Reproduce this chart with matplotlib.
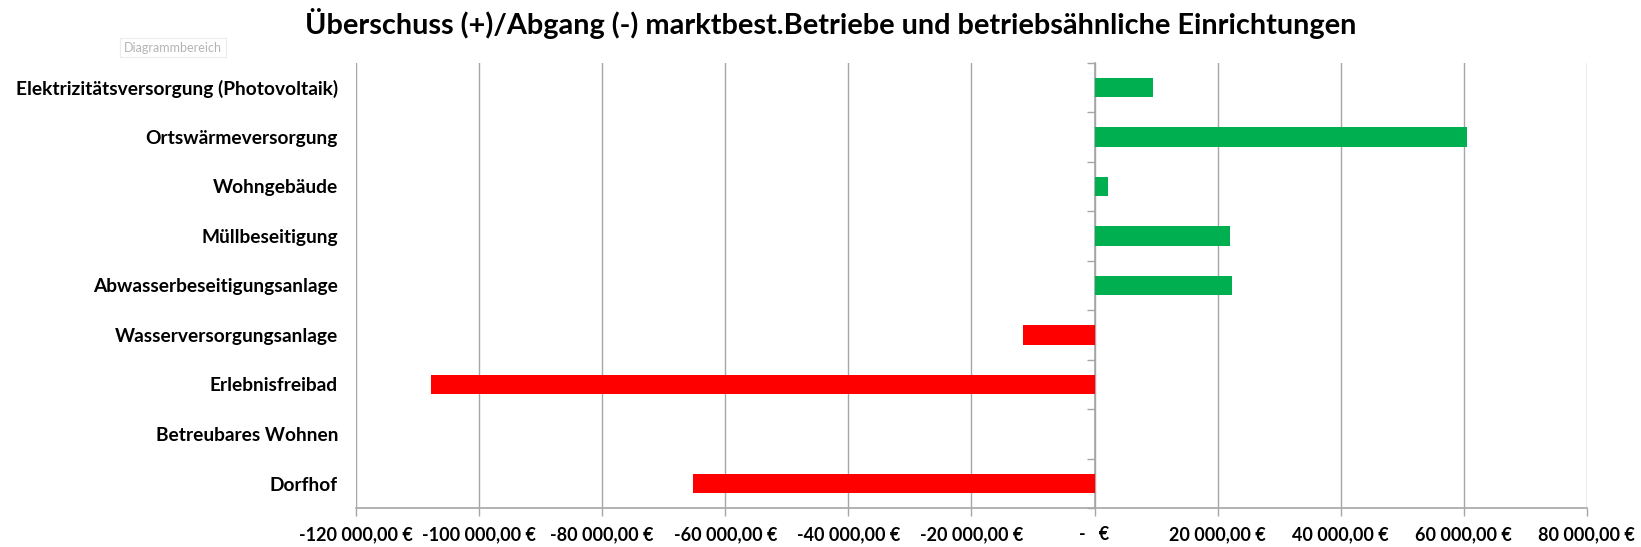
import matplotlib
matplotlib.use("Agg")
import matplotlib.pyplot as plt
from matplotlib.ticker import FuncFormatter, FixedLocator, NullFormatter

plt.rcParams['font.family'] = ['Lato', 'DejaVu Sans']

# Data (top to bottom as in the chart)
categories = [
    "Elektrizitätsversorgung (Photovoltaik)",
    "Ortswärmeversorgung",
    "Wohngebäude",
    "Müllbeseitigung",
    "Abwasserbeseitigungsanlage",
    "Wasserversorgungsanlage",
    "Erlebnisfreibad",
    "Betreubares Wohnen",
    "Dorfhof",
]
values = [9500, 60600, 2150, 22000, 22400, -11600, -107900, 0, -65200]

x_ticks = [-120000, -100000, -80000, -60000, -40000, -20000, 0, 20000, 40000, 60000, 80000]

green = '#00B050'
red = '#FF0000'
grid_col = '#A6A6A6'


def euro(v, pos=None):
    if v == 0:
        return "-   €"
    s = f"{abs(v):,.2f}".replace(",", " ").replace(".", ",")
    return ("-" if v < 0 else "") + s + " €"


fig = plt.figure(figsize=(16.41, 5.47), dpi=100)
ax = fig.add_axes([0.217, 0.0708, 0.750, 0.8146])

n = len(categories)
ypos = list(range(n))[::-1]
colors = [green if v > 0 else red for v in values]
ax.barh(ypos, values, height=0.39, color=colors, zorder=3)

ax.set_xlim(x_ticks[0], x_ticks[-1])
ax.set_ylim(-0.5, n - 0.5)
ax.set_xticks(x_ticks)
ax.xaxis.set_major_formatter(FuncFormatter(euro))
ax.grid(axis='x', color=grid_col, linewidth=1.0, zorder=0)

ax.set_yticks(ypos)
ax.set_yticklabels(categories, fontsize=13.8, fontweight='bold')
ax.tick_params(axis='y', length=0, pad=13)
ax.tick_params(axis='x', length=6, width=1, color=grid_col, pad=7,
               labelsize=13, labelcolor='black')
for lab in ax.get_xticklabels():
    lab.set_fontweight('bold')

for s in ['top', 'right', 'left']:
    ax.spines[s].set_visible(False)
ax.spines['bottom'].set_color(grid_col)
ax.spines['bottom'].set_linewidth(1.2)

# category axis crossing at zero with boundary tick marks
zero_frac = (0 - x_ticks[0]) / (x_ticks[-1] - x_ticks[0])
sec = ax.secondary_yaxis(zero_frac)
sec.yaxis.set_ticks_position('left')
for s in sec.spines.values():
    s.set_color(grid_col)
    s.set_linewidth(1.2)
sec.yaxis.set_major_locator(FixedLocator([i + 0.5 for i in range(-1, n)]))
sec.yaxis.set_major_formatter(NullFormatter())
sec.tick_params(axis='y', direction='out', length=6, width=1, color=grid_col,
                labelleft=False, labelright=False)

fig.suptitle("Überschuss (+)/Abgang (-) marktbest.Betriebe und betriebsähnliche Einrichtungen",
             fontsize=20.8, fontweight='bold', x=0.506, y=0.985)

fig.text(0.0755, 0.913, "Diagrammbereich", fontsize=9, color='#b4b4b4',
         ha='left', va='center',
         bbox=dict(boxstyle='square,pad=0.3', fc='white', ec='#ececec', lw=0.8))

fig.savefig("out.png", dpi=100)
